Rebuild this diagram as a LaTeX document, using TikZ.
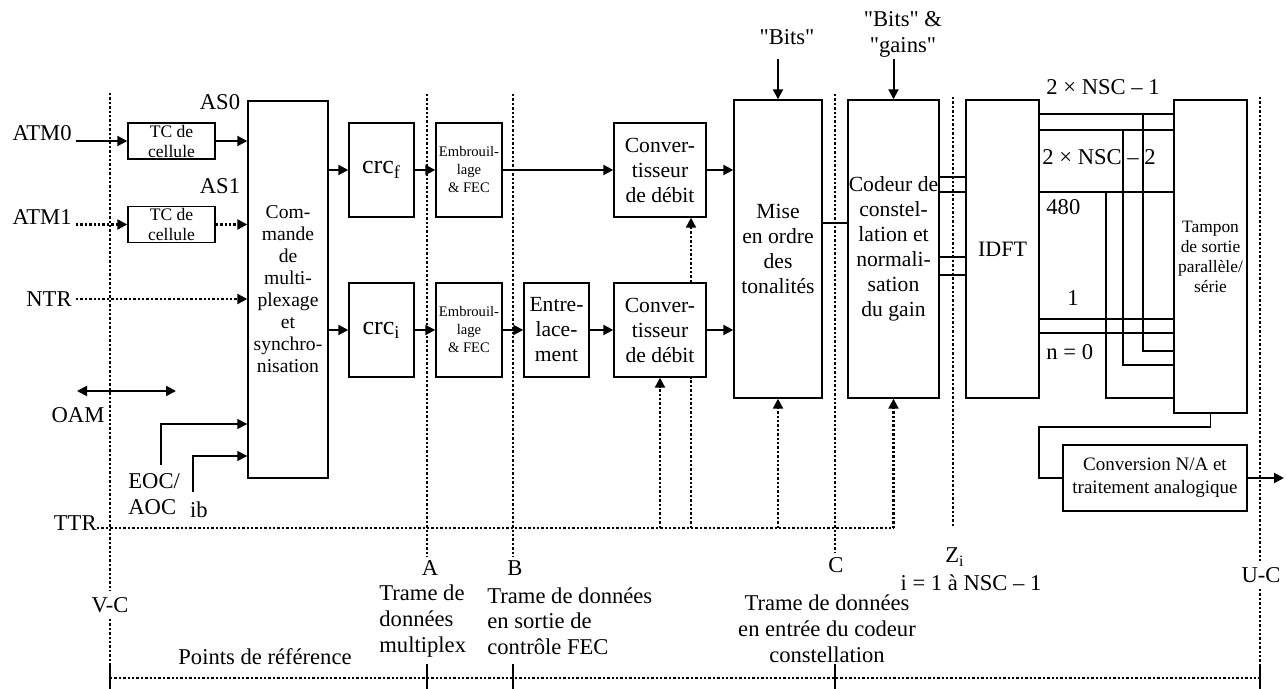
\documentclass[tikz,border=0pt]{standalone}
\usepackage{fontspec}
\setmainfont{Liberation Serif}[Ligatures=TeXOff]
\usetikzlibrary{arrows.meta,positioning,calc}

\begin{document}
\begin{tikzpicture}[
    x=0.5pt,y=-0.5pt,
    box/.style={draw,line width=0.7pt,inner sep=0pt,align=center,font=\fontsize{10.8}{12.5}\selectfont},
    sz/.style 2 args={minimum width=#1*0.5pt,minimum height=#2*0.5pt},
    lbl/.style={inner sep=0pt,font=\fontsize{11.3}{12.8}\selectfont},
    arr/.style={line width=1pt,-{Triangle[length=5pt,width=5pt]}},
    thinarr/.style={line width=0.6pt,-{Triangle[length=5pt,width=5pt]}},
    dots/.style={line width=1.1pt,dash pattern=on 1.2pt off 1pt},
    dotarr/.style={dots,-{Triangle[length=5pt,width=5pt]}},
    chan/.style={line width=1pt},
    wire/.style={line width=0.6pt},
    tick/.style={line width=0.8pt}]
  \useasboundingbox (0,0) rectangle (1286,689);

  \node[box,sz={87}{36},font=\fontsize{8.8}{10}\selectfont] (tcz) at (171.5,141) {TC de\\cellule};
  \node[box,sz={87}{36},font=\fontsize{8.8}{10}\selectfont] (tco) at (171.5,224.5) {TC de\\cellule};
  \node[box,sz={80}{377},font=\fontsize{9.8}{11}\selectfont] (mux) at (288,289.5) {Com-\\mande\\de\\multi-\\plexage\\et\\synchro-\\nisation};
  \node[box,sz={65}{94},font=\fontsize{13}{15}\selectfont] (crcf) at (381.5,170) {crc\textsubscript{f}};
  \node[box,sz={65}{94},font=\fontsize{13}{15}\selectfont] (crci) at (381.5,330) {crc\textsubscript{i}};
  \node[box,sz={66}{94},font=\fontsize{7.3}{9}\selectfont] (embf) at (469,170) {Embrouil-\\lage\\\& FEC};
  \node[box,sz={66}{94},font=\fontsize{7.3}{9}\selectfont] (embi) at (469,330) {Embrouil-\\lage\\\& FEC};
  \node[box,sz={65}{94}] (entr) at (556.5,330) {Entre-\\lace-\\ment};
  \node[box,sz={92}{94}] (convf) at (660,170) {Conver-\\tisseur\\de débit};
  \node[box,sz={92}{94}] (convi) at (660,330) {Conver-\\tisseur\\de débit};
  \node[box,sz={88}{298}] (mise) at (778,249) {Mise\\en ordre\\des\\tonalités};
  \node[box,sz={91}{298}] (codeur) at (893.5,249) {Codeur de\\constel-\\lation et\\normali-\\sation\\du gain};
  \node[box,sz={73}{298},font=\fontsize{11}{13}\selectfont] (idft) at (1002.5,249) {IDFT};
  \node[box,sz={73}{313},font=\fontsize{8.7}{10}\selectfont] (tampon) at (1210.5,256.5) {Tampon\\de sortie\\parallèle/\\série};
  \node[box,sz={184}{66},font=\fontsize{9.5}{11.5}\selectfont] (na) at (1155,478) {Conversion N/A et\\traitement analogique};

  \node[lbl,anchor=east] (atmz) at (72,133) {ATM0};
  \node[lbl,anchor=east] (atmo) at (72,217) {ATM1};
  \node[lbl,anchor=east] (ntr) at (72,299) {NTR};
  \node[lbl] (asz) at (220,102) {AS0};
  \node[lbl] (aso) at (220,186) {AS1};
  \node[lbl] (oam) at (78,415) {OAM};
  \node[lbl,anchor=west,align=left] (eoc) at (128,494) {EOC/\\AOC};
  \node[lbl] (ib) at (199,510) {ib};
  \node[lbl,anchor=east] (ttr) at (97,523) {TTR};
  \node[lbl] (bits) at (787,37) {"Bits"};
  \node[lbl,align=center,font=\fontsize{11.3}{13}\selectfont] (bg) at (903,34) {"Bits" \&\\"gains"};
  \node[lbl] (nmax) at (1103,87) {2 × NSC – 1};
  \node[lbl,anchor=west] (nmaxb) at (1042,157) {2 × NSC – 2};
  \node[lbl,anchor=west] (nfour) at (1046,207) {480};
  \node[lbl] (none) at (1073,298) {1};
  \node[lbl,anchor=west] (nzero) at (1046,352) {n = 0};

  \node[lbl,inner sep=3pt] (vc) at (110,605) {V-C};
  \node[lbl,inner sep=2pt] (ra) at (430,568) {A};
  \node[lbl,inner sep=2pt] (rb) at (515,568) {B};
  \node[lbl,inner sep=2pt] (rc) at (836,565) {C};
  \node[lbl] (rz) at (955,557) {Z\textsubscript{i}};
  \node[lbl] (nsc) at (971,583) {i = 1 à NSC – 1};
  \node[lbl,inner sep=3pt] (uc) at (1261,575) {U-C};
  \node[lbl,anchor=west,align=left] (fra) at (379,621) {Trame de\\données\\multiplex};
  \node[lbl,anchor=west,align=left] (frb) at (487,621) {Trame de données\\en sortie de\\contrôle FEC};
  \node[lbl,align=center,font=\fontsize{11.3}{13}\selectfont] (frc) at (827,629) {Trame de données\\en entrée du codeur\\constellation};
  \node[lbl] (refpts) at (265,657) {Points de référence};

  \foreach \nm/\xx/\yt in {vc/110/93,a/427/94,b/513/94,c/835/94,z/953/97,uc/1260/97}
    \coordinate (top\nm) at (\xx,\yt);
  \coordinate (bus) at (0,528);
  \coordinate (base) at (0,678);
  \coordinate (tapf) at (691,528);
  \coordinate (oaml) at (77,391);
  \coordinate (oamr) at (176,391);
  \coordinate (eocin) at (161,465);
  \coordinate (ibin) at (193,492);
  \coordinate (elbow) at (1039,427);
  \coordinate (uout) at (1284,478);

  \draw[dots] (topvc) -- (topvc |- vc.north);
  \draw[dots] (vc.south) -- (topvc |- 0,664);
  \draw[dots] (topa) -- (topa |- ra.north);
  \draw[dots] (topb) -- (topb |- rb.north);
  \draw[dots] (topc) -- (topc |- rc.north);
  \draw[dots] (topz) -- (topz |- bus);
  \draw[dots] (topuc) -- (topuc |- uc.north);
  \draw[dots] (topuc |- uc.south) -- (topuc |- 0,664);
  \draw[dots] (topvc |- base) -- (topuc |- base);
  \foreach \nm in {vc,a,b,c,uc}
    \draw[tick] (top\nm |- 0,664) -- (top\nm |- 0,689);

  \draw[arr] ([xshift=2pt]atmz.east |- tcz.west) -- (tcz.west);
  \draw[arr] (tcz.east) -- (tcz.east -| mux.west);
  \draw[dotarr] ([xshift=2pt]atmo.east |- tco.west) -- (tco.west);
  \draw[dotarr] (tco.east) -- (tco.east -| mux.west);
  \draw[dotarr] ([xshift=2pt]ntr.east) -- (ntr.east -| mux.west);
  \draw[line width=1pt,{Triangle[length=5pt,width=5pt]}-{Triangle[length=5pt,width=5pt]}] (oaml) -- (oamr);
  \draw[thinarr] (eocin) |- (mux.west |- 0,424);
  \draw[thinarr] (ibin) |- (mux.west |- 0,456);

  \draw[arr] (mux.east |- crcf.west) -- (crcf.west);
  \draw[arr] (crcf) -- (embf);
  \draw[arr] (embf) -- (convf);
  \draw[arr] (convf.east) -- (convf.east -| mise.west);
  \draw[arr] (mux.east |- crci.west) -- (crci.west);
  \draw[arr] (crci) -- (embi);
  \draw[arr] (embi) -- (entr);
  \draw[arr] (entr) -- (convi);
  \draw[arr] (convi.east) -- (convi.east -| mise.west);
  \draw[chan] (mise.east |- 0,223) -- (codeur.west |- 0,223);
  \draw[arr] ($(mise.north)+(0,-40)$) -- (mise.north);
  \draw[arr] ($(codeur.north)+(0,-40)$) -- (codeur.north);

  \draw[dots] (ttr.east |- bus) -- (codeur.south |- bus);
  \draw[dotarr] (convi.south |- bus) -- (convi.south);
  \draw[dots] (tapf) -- (tapf |- convi.south);
  \draw[dotarr] (tapf |- convi.north) -- (tapf |- convf.south);
  \draw[dotarr] (mise.south |- bus) -- (mise.south);
  \draw[dotarr] (codeur.south |- bus) -- (codeur.south);

  \foreach \yy in {177,192,257,275}
    \draw[chan] (codeur.east |- 0,\yy) -- (idft.west |- 0,\yy);
  \foreach \yy in {114,130,192,319,333}
    \draw[chan] (idft.east |- 0,\yy) -- (tampon.west |- 0,\yy);
  \foreach \xx/\ya/\yb in {1143/114/351,1123/130/365,1106/192/398}
    \draw[wire] (\xx,\ya) |- (tampon.west |- 0,\yb);
  \draw[wire] (tampon.south) |- (elbow) |- (na.west);
  \draw[arr] (na.east) -- (uout);
\end{tikzpicture}
\end{document}
